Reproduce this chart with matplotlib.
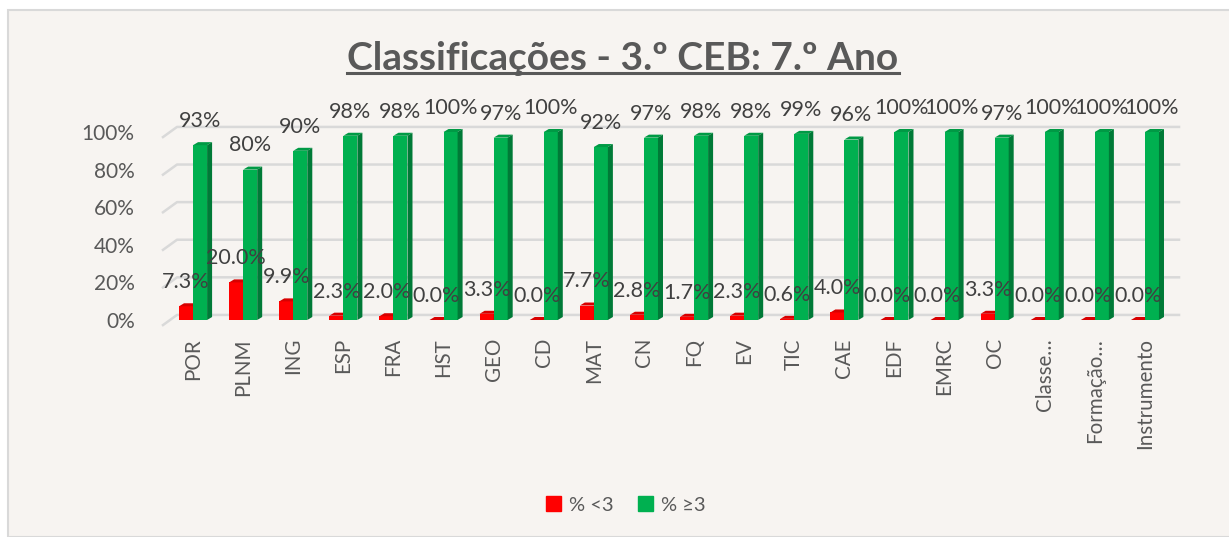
import matplotlib.pyplot as plt
from matplotlib.patches import Polygon, Patch, Rectangle
from matplotlib.lines import Line2D

plt.rcParams['font.family'] = ['Lato', 'DejaVu Sans']

# dados
disciplinas = ["POR", "PLNM", "ING", "ESP", "FRA", "HST", "GEO", "CD", "MAT", "CN",
               "FQ", "EV", "TIC", "CAE", "EDF", "EMRC", "OC", "Classe…", "Formação…",
               "Instrumento"]
neg = [7.3, 20.0, 9.9, 2.3, 2.0, 0.0, 3.3, 0.0, 7.7, 2.8,
       1.7, 2.3, 0.6, 4.0, 0.0, 0.0, 3.3, 0.0, 0.0, 0.0]
pos = [93, 80, 90, 98, 98, 100, 97, 100, 92, 97,
       98, 98, 99, 96, 100, 100, 97, 100, 100, 100]
yticks = [0, 20, 40, 60, 80, 100]

fundo = "#F7F4F1"
cinza = "#595959"

fig = plt.figure(figsize=(12.29, 5.37), dpi=100, facecolor="white")
fig.patches.append(Rectangle((8 / 1229, 0), 1.2, (537 - 10) / 537, transform=fig.transFigure,
                             facecolor=fundo, edgecolor="#D9D9D9", lw=1.5, zorder=-10))
ax = fig.add_axes([168 / 1229, 217 / 537, 1002 / 1229, 188 / 537])
ax.set_facecolor("none")

w = 0.28
dx, dy = 0.1, 1.6  # profundidade "3D"


def barras_3d(xs, vals, frente, topo, lado, z):
    ax.bar(xs, vals, width=w, color=frente, zorder=z)
    for x, v in zip(xs, vals):
        x0, x1 = x - w / 2, x + w / 2
        ax.add_patch(Polygon([(x0, v), (x1, v), (x1 + dx, v + dy), (x0 + dx, v + dy)],
                             closed=True, facecolor=topo, edgecolor="none", zorder=z,
                             clip_on=False))
        ax.add_patch(Polygon([(x1, 0), (x1 + dx, dy), (x1 + dx, v + dy), (x1, v)],
                             closed=True, facecolor=lado, edgecolor="none", zorder=z,
                             clip_on=False))


idx = list(range(len(disciplinas)))
xr = [i - 0.14 for i in idx]
xg = [i + 0.14 for i in idx]

# linhas de grelha
for t in yticks:
    ax.plot([-0.6, -0.32, 19.68], [t - 2.7, t + 2.7, t + 2.7], color="#D9D9D9",
            lw=1.8, zorder=1, clip_on=False)

barras_3d(xr, neg, "#FF0000", "#D80000", "#B00000", 3)
barras_3d(xg, pos, "#00B050", "#009A45", "#007A37", 4)

for x, v in zip(xr, neg):
    ax.annotate(f"{v:.1f}%", (x, v + dy), xytext=(0, 8), textcoords="offset points",
                ha="center", va="bottom", fontsize=15.5, color="#404040", zorder=6,
                annotation_clip=False)
for x, v in zip(xg, pos):
    ax.annotate(f"{v:.0f}%", (x, v + dy), xytext=(0, 8), textcoords="offset points",
                ha="center", va="bottom", fontsize=15.5, color="#404040", zorder=6,
                annotation_clip=False)

ax.set_xlim(-0.5, len(disciplinas) - 0.5)
ax.set_ylim(0, 100)
ax.set_xticks(idx)
ax.set_xticklabels(disciplinas, rotation=90, fontsize=14.8, color=cinza)
ax.set_yticks(yticks)
ax.set_yticklabels([f"{t}%" for t in yticks], fontsize=15, color=cinza)
ax.tick_params(axis="x", length=0, pad=13)
ax.tick_params(axis="y", length=0, pad=24)
for s in ax.spines.values():
    s.set_visible(False)

titulo = fig.text(623 / 1229, 1 - 58 / 537, "Classificações - 3.º CEB: 7.º Ano",
                  ha="center", va="center", fontsize=28, fontweight="bold", color=cinza)

fig.legend(handles=[Patch(color="#FF0000", label="% <3"), Patch(color="#00B050", label="% ≥3")],
           loc="center", bbox_to_anchor=(626 / 1229, 1 - 505 / 537), ncol=2, frameon=False,
           fontsize=14.5, labelcolor=cinza, handlelength=0.75, handleheight=0.75,
           handletextpad=0.4, columnspacing=1.2)

# sublinhado do título
fig.canvas.draw()
bb = titulo.get_window_extent()
yl = bb.y0 + 3
fig.add_artist(Line2D([bb.x0, bb.x1], [yl, yl], transform=None, color=cinza, lw=2.2))

fig.savefig("out.png", dpi=100, facecolor=fig.get_facecolor())
